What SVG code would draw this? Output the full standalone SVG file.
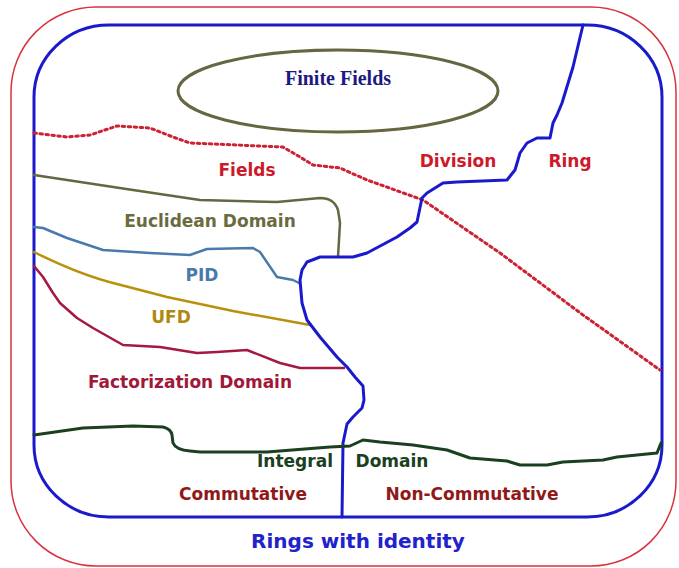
<svg xmlns="http://www.w3.org/2000/svg" width="679" height="568" viewBox="0 0 679 568">
<style>
.lbl{font-family:"DejaVu Sans","Liberation Sans",sans-serif;font-weight:bold;text-anchor:middle;font-size:17px}
.ln{fill:none;stroke-linejoin:round;stroke-linecap:round}
</style>
<rect width="679" height="568" fill="#ffffff"/>
<g id="outer">
<rect x="11" y="7" width="665" height="559" rx="85" ry="85" fill="none" stroke="#d8323f" stroke-width="1.5"/>
</g>
<g id="rings">
<rect x="34" y="25" width="628" height="492" rx="75" ry="72" fill="none" stroke="#1a1acc" stroke-width="3"/>
</g>
<g id="finite-fields">
<ellipse cx="338" cy="91" rx="160" ry="41" fill="none" stroke="#666640" stroke-width="3"/>
<text x="338" y="85" font-family="Liberation Serif,serif" font-weight="bold" font-size="20" fill="#1a1a80" text-anchor="middle">Finite Fields</text>
</g>
<g id="connectors">
<path id="fields-line" class="ln" d="M34,133 L67,137 L90,135 L117,126 L150,128 L173,137 L190,143 L283,147 L300,157 L313,165 L340,168 L367,180 L423,200 L500,253 L583,315 L660,370" stroke="#cc2233" stroke-width="3" stroke-dasharray="2.5 3.5" stroke-linecap="butt"/>
<path id="euclid-line" class="ln" d="M34,175 L133,190 L200,200 L277,202 L320,198 Q334,198 338,210 L340,223 L338,257" stroke="#666640" stroke-width="2.5"/>
<path id="pid-line" class="ln" d="M34,227 L43,228 L67,238 L103,250 L150,253 L190,255 L207,249 L253,248 L260,252 L277,277 L293,280 L299,283" stroke="#4a7aab" stroke-width="2.5"/>
<path id="ufd-line" class="ln" d="M34,252 Q80,275 117,284 L167,297 L233,311 L310,325" stroke="#b8900a" stroke-width="2.5"/>
<path id="fact-line" class="ln" d="M34,266 L43,277 L53,293 L60,303 L77,318 L93,328 L123,345 L160,347 L197,353 L217,352 L247,350 L280,363 L300,368 L344,368" stroke="#a51840" stroke-width="2.5"/>
<path id="division-line" class="ln" d="M583,25 L573,67 L562,103 L557,115 L553,123 L550,138 L537,138 L527,143 L520,153 L515,170 L507,180 L457,182 L443,183 L427,193 L422,198 L417,222 L410,228 L397,237 L367,253 L353,257 L320,257 L307,262 L302,270 L300,280 L302,303 L307,320 L320,337 L337,357 L347,367 L355,377 L363,386 L364,400 L362,408 L353,417 L347,424 L343,443 L342,517" stroke="#1a1acc" stroke-width="3"/>
<path id="integral-line" class="ln" d="M34,435 L83,428 L133,426 L163,427 Q171,429 172,435 L173,443 Q176,450 190,451 L200,452 L267,452 L330,447 L350,446 L363,440 L380,442 L413,445 L447,450 L470,458 L507,461 L520,465 L547,465 L563,462 L603,460 L617,457 L657,453 L661,443" stroke="#1a4020" stroke-width="3"/>
</g>
<g id="labels">
<text id="t-fields" class="lbl" x="247" y="176" fill="#cc1a2a">Fields</text>
<text id="t-division" class="lbl" x="458" y="167" fill="#cc1a2a">Division</text>
<text id="t-ring" class="lbl" x="570" y="167" fill="#cc1a2a">Ring</text>
<text id="t-euclid" class="lbl" x="210" y="227" fill="#6b6b40">Euclidean Domain</text>
<text id="t-pid" class="lbl" x="202" y="281" fill="#4a7aab">PID</text>
<text id="t-ufd" class="lbl" x="171" y="323" fill="#b08a10">UFD</text>
<text id="t-fact" class="lbl" x="190" y="388" fill="#a0183a">Factorization Domain</text>
<text id="t-integral" class="lbl" x="295" y="467" fill="#1a4020">Integral</text>
<text id="t-domain" class="lbl" x="392" y="467" fill="#1a4020">Domain</text>
<text id="t-comm" class="lbl" x="243" y="500" fill="#901818">Commutative</text>
<text id="t-noncomm" class="lbl" x="472" y="500" fill="#901818">Non-Commutative</text>
<text id="t-rings" class="lbl" x="358" y="548" style="font-size:20px" fill="#2222cc">Rings with identity</text>
</g>
</svg>
